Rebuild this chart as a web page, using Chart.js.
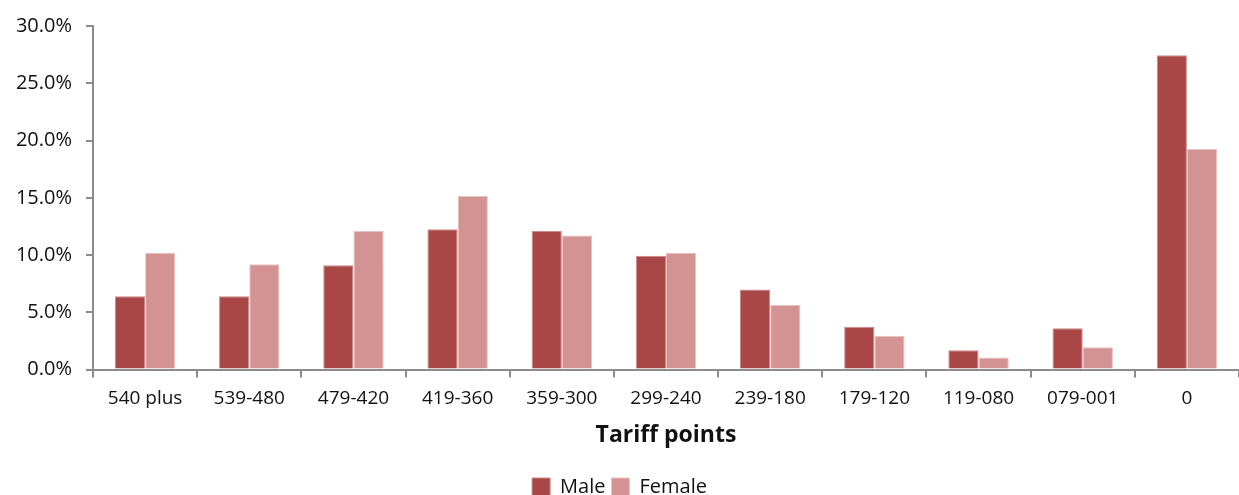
<!DOCTYPE html>
<html>
<head>
<meta charset="utf-8">
<script src="https://cdn.jsdelivr.net/npm/chart.js@4"></script>
<style>
  html, body { margin: 0; padding: 0; background: #fff; }
  #wrap { width: 1239px; height: 495px; }
</style>
</head>
<body>
<div id="wrap"><canvas id="bar-chartcanvas"></canvas></div>
<script>
var categories = ["540 plus", "539-480", "479-420", "419-360", "359-300", "299-240", "239-180", "179-120", "119-080", "079-001", "0"];
var maleValues = [6.4, 6.4, 9.1, 12.25, 12.1, 9.95, 7.0, 3.75, 1.7, 3.6, 27.45];
var femaleValues = [10.2, 9.2, 12.1, 15.15, 11.7, 10.2, 5.65, 2.95, 1.05, 1.95, 19.25];
var yTicks = [0, 5, 10, 15, 20, 25, 30];

var fontFamily = "'Open Sans', Lato, sans-serif";
var axisColor = "#8c8c8c";

var data1 = {
	labels : categories,
	datasets : [
		{
			label : "Male",
			data : maleValues,
			backgroundColor : "#A84745",
			borderColor : "#c98a88",
			borderWidth : 1
		},
		{
			label : "Female",
			data : femaleValues,
			backgroundColor : "#D39392",
			borderColor : "#e8c2c1",
			borderWidth : 1
		}
	]
};

var options = {
	responsive : true,
	maintainAspectRatio : false,
	animation : false,
	// legend sits very close to the bottom edge in the original
	layout : { padding : { top : 24, right : 0, left : 0, bottom : -12 } },
	datasets : {
		bar : { categoryPercentage : 0.58, barPercentage : 1.0 }
	},
	plugins : {
		legend : {
			display : true,
			position : "bottom",
			labels : {
				boxWidth : 18,
				boxHeight : 18,
				padding : 6,
				color : "#111",
				font : { family : fontFamily, size : 20 }
			}
		},
		tooltip : { enabled : false }
	},
	scales : {
		x : {
			grid : {
				display : true,
				offset : true,
				drawOnChartArea : false,
				drawTicks : true,
				tickLength : 8,
				color : axisColor,
				lineWidth : 2
			},
			border : { display : true, color : axisColor, width : 2 },
			ticks : {
				color : "#111",
				padding : 10,
				maxRotation : 0,
				font : { family : fontFamily, size : 19 }
			},
			title : {
				display : true,
				text : "Tariff points",
				color : "#111",
				padding : { top : 1, bottom : 22 },
				font : { family : fontFamily, size : 23, weight : "bold" }
			}
		},
		y : {
			min : 0,
			max : 30,
			afterBuildTicks : function (axis) {
				axis.ticks = yTicks.map(function (v) { return { value : v }; });
			},
			afterFit : function (axis) { axis.width = 93; },
			grid : {
				display : true,
				drawOnChartArea : false,
				drawTicks : true,
				tickLength : 7,
				color : axisColor,
				lineWidth : 2
			},
			border : { display : true, color : axisColor, width : 2 },
			ticks : {
				color : "#111",
				padding : 14,
				font : { family : fontFamily, size : 20 },
				callback : function (v) { return v.toFixed(1) + "%"; }
			}
		}
	}
};

var chart1 = new Chart(document.getElementById("bar-chartcanvas"), {
	type : "bar",
	data : data1,
	options : options
});
</script>
</body>
</html>
